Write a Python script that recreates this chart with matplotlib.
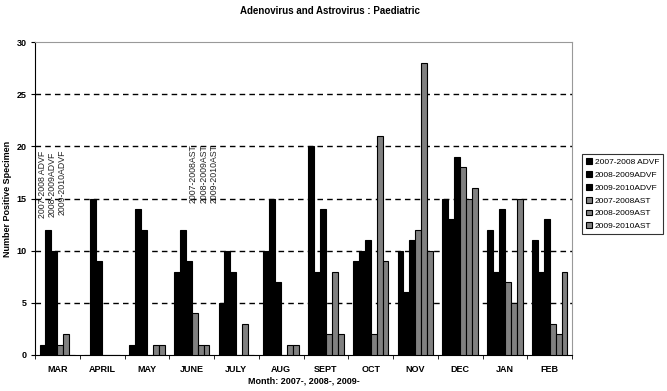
import matplotlib
matplotlib.use("Agg")
import matplotlib.pyplot as plt
import numpy as np

plt.rcParams['font.family'] = ['Liberation Sans', 'DejaVu Sans']

months = ["MAR", "APRIL", "MAY", "JUNE", "JULY", "AUG", "SEPT", "OCT", "NOV", "DEC", "JAN", "FEB"]

advf_0708 = [1, 0, 1, 8, 5, 10, 20, 9, 10, 15, 12, 11]
advf_0809 = [12, 15, 14, 12, 10, 15, 8, 10, 6, 13, 8, 8]
advf_0910 = [10, 9, 12, 9, 8, 7, 14, 11, 11, 19, 14, 13]
ast_0708 = [1, 0, 0, 4, 0, 0, 2, 2, 12, 18, 7, 3]
ast_0809 = [2, 0, 1, 1, 3, 1, 8, 21, 28, 15, 5, 2]
ast_0910 = [0, 0, 1, 1, 0, 1, 2, 9, 10, 16, 15, 8]

series = [
    ("2007-2008 ADVF", advf_0708, "black"),
    ("2008-2009ADVF", advf_0809, "black"),
    ("2009-2010ADVF", advf_0910, "black"),
    ("2007-2008AST", ast_0708, "#808080"),
    ("2008-2009AST", ast_0809, "#808080"),
    ("2009-2010AST", ast_0910, "#808080"),
]

fig = plt.figure(figsize=(6.67, 3.91), dpi=100)
ax = fig.add_axes([35 / 667, 1 - 355 / 391, (572 - 35) / 667, (355 - 42) / 391])

x = np.arange(len(months))
w = 0.133
for i, (name, vals, col) in enumerate(series):
    ax.bar(x + (i - 2.5) * w, vals, w, color=col, edgecolor="black", linewidth=0.8,
           label=name, zorder=3)

ax.set_xlim(-0.5, len(months) - 0.5)
ax.set_ylim(0, 30)
ax.set_yticks(range(0, 31, 5))
for yv in range(5, 30, 5):
    ax.axhline(yv, color="black", linestyle=(0, (4, 3)), linewidth=1.0, zorder=1)

ax.set_xticks(x)
ax.set_xticklabels(months, fontsize=6.5, fontweight="bold")
ax.set_xticks(np.arange(-0.5, len(months), 1), minor=True)
ax.tick_params(axis="x", which="major", length=0, pad=7)
ax.tick_params(axis="x", which="minor", length=3, direction="out", color="black")
ax.tick_params(axis="y", length=3, direction="out", labelsize=6.5, pad=3)
for lab in ax.get_yticklabels():
    lab.set_fontweight("bold")

ax.spines["top"].set_color("#999999")
ax.spines["right"].set_color("#999999")
ax.spines["left"].set_color("black")
ax.spines["bottom"].set_color("black")

# rotated annotations
advf_pos = [(-0.34, 13.1), (-0.12, 13.2), (0.10, 13.4)]
for (px, py), name in zip(advf_pos, ["2007-2008 ADVF", "2008-2009ADVF", "2009-2010ADVF"]):
    ax.text(px, py, name, rotation=90, fontsize=6.3, ha="center", va="bottom", color="#222222")
ast_pos = [(3.03, 14.6), (3.27, 14.6), (3.50, 14.6)]
for (px, py), name in zip(ast_pos, ["2007-2008AST", "2008-2009AST", "2009-2010AST"]):
    ax.text(px, py, name, rotation=90, fontsize=6.3, ha="center", va="bottom", color="#222222")

ax.set_xlabel("Month: 2007-, 2008-, 2009-", fontsize=6.5, fontweight="bold", labelpad=2)
ax.set_ylabel("Number Positive Specimen", fontsize=6.5, fontweight="bold")
ax.yaxis.set_label_coords(-0.042, 0.5)
fig.suptitle("Adenovirus and Astrovirus : Paediatric", fontsize=7, fontweight="bold", y=0.985, x=0.495)

leg = fig.legend(loc="upper left", bbox_to_anchor=(578 / 667, 1 - 150 / 391), fontsize=6,
                 frameon=True, fancybox=False, edgecolor="black", handlelength=0.7,
                 handleheight=0.7, handletextpad=0.3, borderpad=0.5, labelspacing=0.6)
leg.get_frame().set_linewidth(0.8)

fig.savefig("out.png", dpi=100)
